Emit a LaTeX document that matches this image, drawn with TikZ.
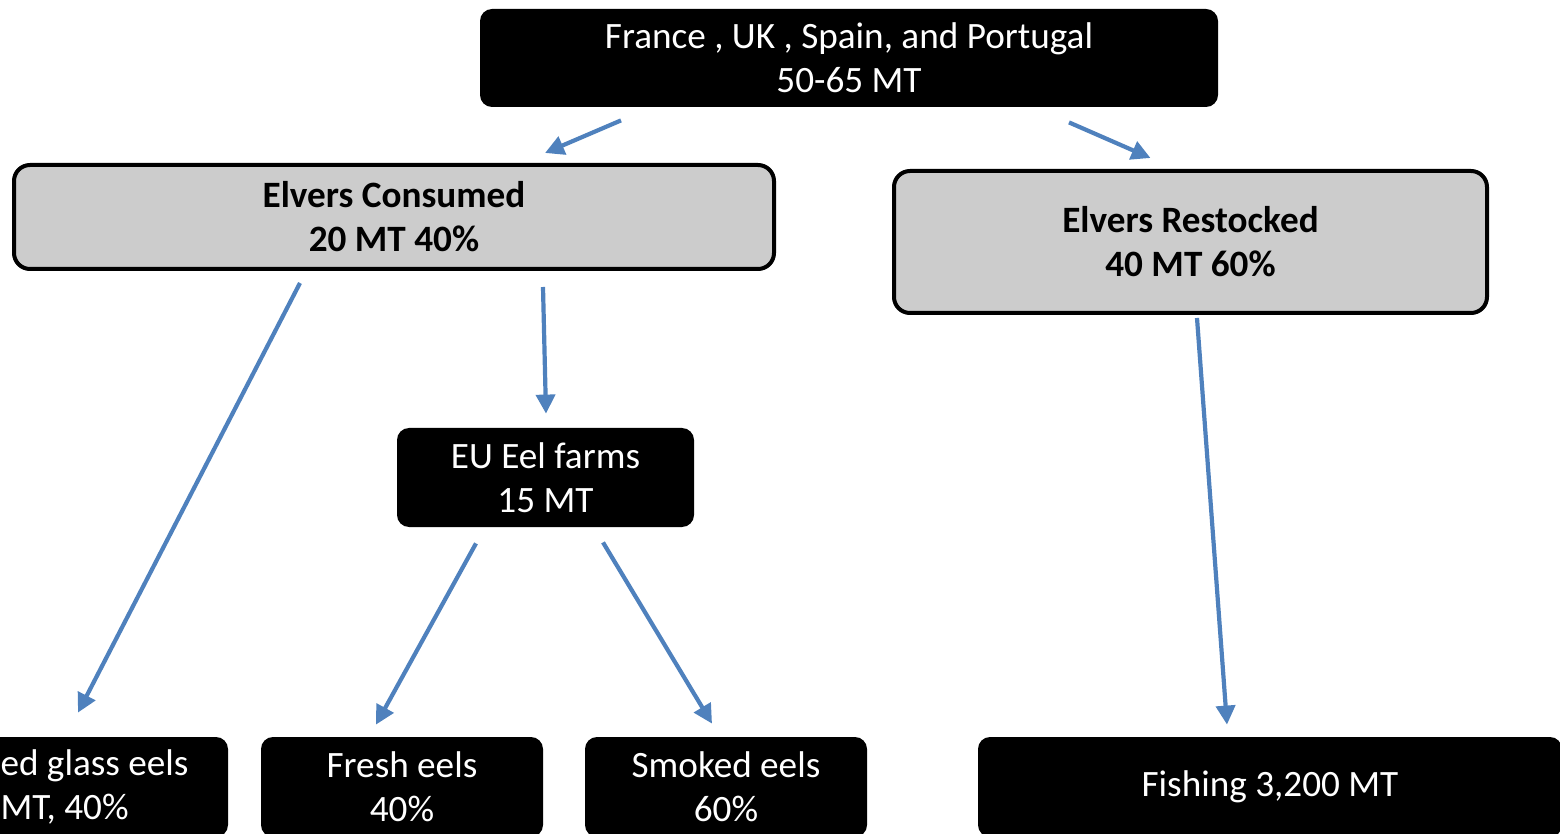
\documentclass[tikz,border=0pt]{standalone}
\usepackage{fontspec}
\setmainfont{Carlito}
\usetikzlibrary{arrows.meta}
\definecolor{flowblue}{HTML}{4F81BD}
\definecolor{boxgrey}{HTML}{CCCCCC}
\tikzset{
  darkbox/.style={fill=black, text=white, rounded corners=6pt, align=center,
    inner sep=0pt, font=\fontsize{18.6}{22}\selectfont},
  greybox/.style={fill=boxgrey, draw=black, line width=2pt, rounded corners=8pt,
    align=center, inner sep=0pt, font=\fontsize{18.6}{22}\selectfont\bfseries},
  flow/.style={draw=flowblue, line width=2.1pt, -{Triangle[length=9.5pt,width=9.5pt]}}
}

\begin{document}
\begin{tikzpicture}[x=0.5pt, y=-0.5pt]
      \useasboundingbox (0,0) rectangle (1560,834);

      % Source countries
      \node[darkbox, minimum width=369pt, minimum height=49pt] (src) at (849,58)
        {France , UK , Spain, and Portugal\\50-65 MT};

      % The two main uses of the elvers
      \node[greybox, minimum width=380pt, minimum height=52pt] (cons) at (394,217)
        {Elvers Consumed\\20 MT 40\%};
      \node[greybox, minimum width=296.5pt, minimum height=71pt] (rest) at (1190.5,242)
        {Elvers Restocked\\40 MT 60\%};

      % Farms
      \node[darkbox, minimum width=148.5pt, minimum height=49.5pt] (farm) at (545.5,477.5)
        {EU Eel farms\\15 MT};

      % Bottom row
      \node[darkbox, minimum width=133.5pt, minimum height=50pt, align=left] (glass) at (94.5,787)
        {ed glass eels\\MT, 40\%};
      \node[darkbox, minimum width=141pt, minimum height=50pt] (fresh) at (402,787)
        {Fresh eels\\40\%};
      \node[darkbox, minimum width=141pt, minimum height=50pt] (smoked) at (726,787)
        {Smoked eels\\60\%};
      \node[darkbox, minimum width=292pt, minimum height=50pt] (fish) at (1270,787)
        {Fishing 3,200 MT};

      % Arrows
      \draw[flow] ([shift={(-228,13)}]src.south) -- ([shift={(151,-10)}]cons.north);
      \draw[flow] ([shift={(220,15)}]src.south) -- ([shift={(-40,-11)}]rest.north);
      \draw[flow] ([shift={(-94,12)}]cons.south) -- ([shift={(-16.5,-24)}]glass.north);
      \draw[flow] ([shift={(149,16)}]cons.south) -- ([shift={(0.5,-14)}]farm.north);
      \draw[flow] ([shift={(-69.5,16)}]farm.south) -- ([shift={(-26,-12)}]fresh.north);
      \draw[flow] ([shift={(57.5,15)}]farm.south) -- ([shift={(-14,-13)}]smoked.north);
      \draw[flow] ([shift={(6.5,3)}]rest.south) -- ([shift={(-43,-12)}]fish.north);
\end{tikzpicture}
\end{document}
